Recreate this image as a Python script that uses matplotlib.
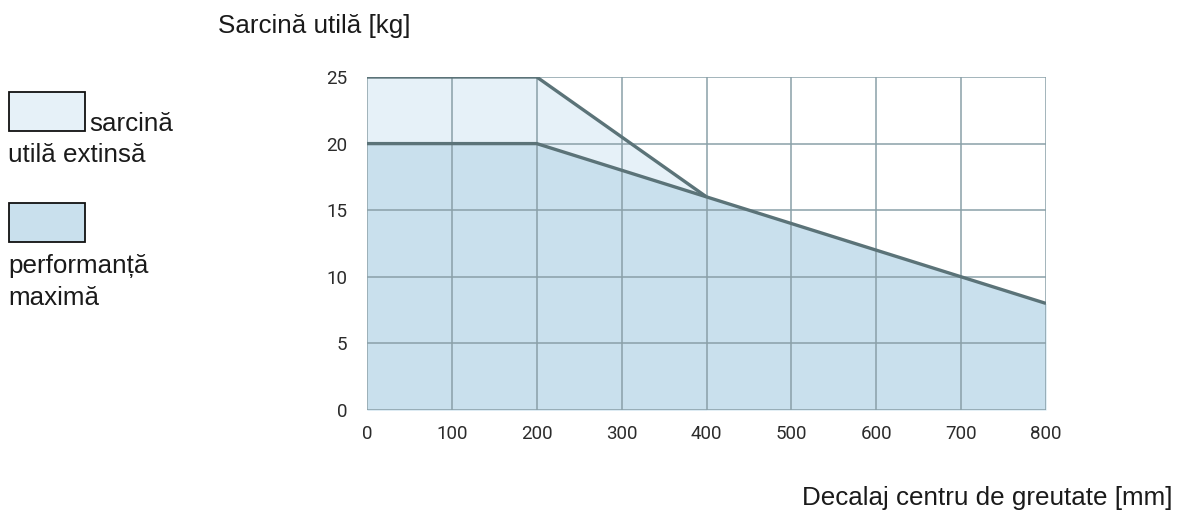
import matplotlib.pyplot as plt
from matplotlib.patches import Rectangle

# date
x_ext = [0, 200, 400]
y_ext = [25, 25, 16]
x_max = [0, 200, 400, 700, 800]
y_max = [20, 20, 16, 10, 8]
x_ticks = [0, 100, 200, 300, 400, 500, 600, 700, 800]
y_ticks = [0, 5, 10, 15, 20, 25]

c_ext = '#e6f1f8'
c_max = '#c9e0ed'
c_line = '#5b7378'
c_grid = '#8aa0a8'

plt.rcParams['font.family'] = ['Roboto', 'DejaVu Sans']
lab_font = ['Liberation Sans', 'DejaVu Sans']

W, H = 1182, 511
fig = plt.figure(figsize=(W / 100, H / 100), dpi=100)
ax = fig.add_axes([367 / W, 1 - 410 / H, (1046 - 367) / W, (410 - 77) / H])

ax.fill_between(x_ext, 0, y_ext, color=c_ext, lw=0, zorder=1)
ax.fill_between(x_max, 0, y_max, color=c_max, lw=0, zorder=1)
ax.plot(x_ext, y_ext, color=c_line, lw=2.4, zorder=3, solid_capstyle='butt')
ax.plot(x_max, y_max, color=c_line, lw=2.4, zorder=3, solid_capstyle='butt')

ax.set_xlim(0, 800)
ax.set_ylim(0, 25)
ax.set_xticks(x_ticks)
ax.set_yticks(y_ticks)
ax.grid(True, color=c_grid, lw=1.1, zorder=2)
ax.set_axisbelow(False)
for s in ax.spines.values():
    s.set_visible(False)
ax.tick_params(length=0, labelsize=13.5, colors='#2b2b2b')
ax.tick_params(axis='x', pad=10.5)
ax.tick_params(axis='y', pad=14)

fig.text(218 / W, 1 - 33 / H, 'Sarcină utilă [kg]', fontsize=18.7, va='baseline', ha='left',
         color='#1a1a1a', family=lab_font)
fig.text(1172 / W, 1 - 505 / H, 'Decalaj centru de greutate [mm]', fontsize=18.7, va='baseline',
         ha='right', color='#1a1a1a', family=lab_font)

# legenda
fig.patches.append(Rectangle((9 / W, 1 - 131 / H), 76 / W, 39 / H, transform=fig.transFigure,
                             facecolor=c_ext, edgecolor='#111111', lw=1.3))
fig.patches.append(Rectangle((9 / W, 1 - 242 / H), 76 / W, 39 / H, transform=fig.transFigure,
                             facecolor=c_max, edgecolor='#111111', lw=1.3))
for tx, ty, s in [(89, 131, 'sarcină'), (8, 162, 'utilă extinsă'),
                  (8, 273, 'performanță'), (8, 305, 'maximă')]:
    fig.text(tx / W, 1 - ty / H, s, fontsize=18.7, va='baseline', ha='left',
             color='#1a1a1a', family=lab_font)

fig.savefig('out.png', dpi=100)
